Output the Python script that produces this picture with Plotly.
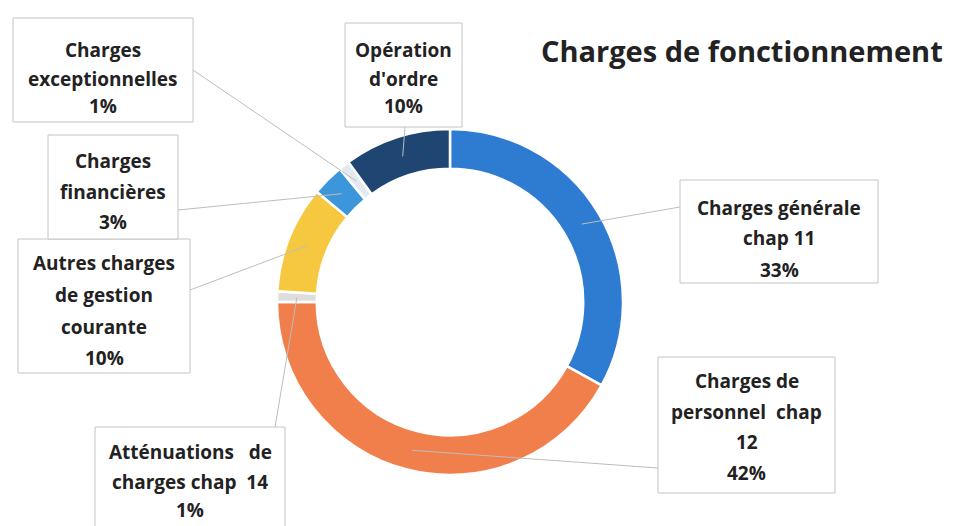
import math
import plotly.graph_objects as go

# ---- data ----
categories = [
    "Charges générale chap 11",
    "Charges de personnel chap 12",
    "Atténuations de charges chap 14",
    "Autres charges de gestion courante",
    "Charges financières",
    "Charges exceptionnelles",
    "Opération d'ordre",
]
values = [33, 42, 1, 10, 3, 1, 10]
label_lines = [
    ["Charges générale", "chap 11", "33%"],
    ["Charges de", "personnel  chap", "12", "42%"],
    ["Atténuations   de", "charges chap  14", "1%"],
    ["Autres charges", "de gestion", "courante", "10%"],
    ["Charges", "financières", "3%"],
    ["Charges", "exceptionnelles", "1%"],
    ["Opération", "d'ordre", "10%"],
]
colors = ["#2E7BD2", "#F07F4B", "#DEDEDE", "#F6C840", "#3C96DA", "#E2E9F0", "#1F4672"]
title_text = "Charges de fonctionnement"

# ---- layout geometry (page pixels) ----
W, H = 954, 526
OFF = 8  # default page margin around the plot div
CX, CY, R = 450, 302, 173
HOLE = 0.77

def px(x):
    return (x - OFF) / W

def py(y):
    return 1 - (y - OFF) / H

# box (x0, y0, x1, y1), line y-centres, leader-line end point
boxes = [
    dict(box=(680, 180, 878, 283), ys=[208, 238, 270], end=(680, 207)),
    dict(box=(658, 357, 835, 493), ys=[381, 412, 442, 473], end=(658, 468)),
    dict(box=(95, 427, 285, 534), ys=[452, 482, 510], end=(275, 427)),
    dict(box=(18, 239, 190, 373), ys=[263, 295, 327, 358], end=(190, 290)),
    dict(box=(48, 135, 178, 239), ys=[161, 192, 222], end=(178, 210)),
    dict(box=(13, 18, 193, 122), ys=[50, 79, 106], end=(193, 70)),
    dict(box=(345, 23, 462, 127), ys=[50, 79, 106], end=(405, 127)),
]

fig = go.Figure()
fig.add_trace(go.Pie(
    labels=categories,
    values=values,
    hole=HOLE,
    sort=False,
    direction="clockwise",
    rotation=0,
    marker=dict(colors=colors, line=dict(color="white", width=2.5)),
    textinfo="none",
    showlegend=False,
    domain=dict(x=[px(CX - R), px(CX + R)], y=[py(CY + R), py(CY - R)]),
))

shapes = []
annotations = []
total = sum(values)
cum = 0
rmid = R * (1 + HOLE) / 2
for i, v in enumerate(values):
    mid = (cum + v / 2) / total * 2 * math.pi
    cum += v
    sx = CX + rmid * math.sin(mid)
    sy = CY - rmid * math.cos(mid)
    b = boxes[i]
    ex, ey = b["end"]
    shapes.append(dict(type="line", xref="paper", yref="paper",
                       x0=px(sx), y0=py(sy), x1=px(ex), y1=py(ey),
                       line=dict(color="#BDBDBD", width=1)))
    x0, y0, x1, y1 = b["box"]
    shapes.append(dict(type="rect", xref="paper", yref="paper",
                       x0=px(x0), y0=py(y1), x1=px(x1), y1=py(y0),
                       line=dict(color="#C4C4C4", width=1), fillcolor="white",
                       layer="above"))
    cxb = (x0 + x1) / 2
    for t, yy in zip(label_lines[i], b["ys"]):
        annotations.append(dict(text="<b>" + t + "</b>", x=px(cxb), y=py(yy),
                                xref="paper", yref="paper", showarrow=False,
                                xanchor="center", yanchor="middle",
                                font=dict(family="Open Sans", size=19, color="#222222")))

annotations.append(dict(text="<b>" + title_text + "</b>", x=px(742), y=py(50),
                        xref="paper", yref="paper", showarrow=False,
                        xanchor="center", yanchor="middle",
                        font=dict(family="Open Sans", size=29, color="#222222")))

fig.update_layout(
    width=W, height=H,
    margin=dict(l=0, r=0, t=0, b=0),
    paper_bgcolor="white", plot_bgcolor="white",
    shapes=shapes, annotations=annotations,
)
fig.write_html("out.html")
